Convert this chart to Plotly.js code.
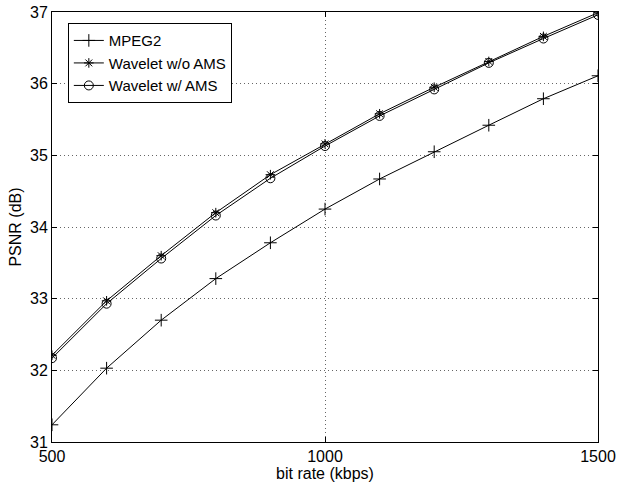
<!DOCTYPE html>
<html><head><meta charset="utf-8">
<script src="https://cdn.plot.ly/plotly-3.0.1.min.js"></script>
<style>body{margin:0;background:#fff}#c{width:619px;height:487px}</style>
</head><body><div id="c"></div>
<script>
var bitRate = [500, 600, 700, 800, 900, 1000, 1100, 1200, 1300, 1400, 1500];
var mpeg2 = [31.24, 32.03, 32.70, 33.28, 33.78, 34.25, 34.67, 35.05, 35.42, 35.79, 36.11];
var waveletNoAMS = [32.21, 32.97, 33.60, 34.20, 34.73, 35.16, 35.58, 35.95, 36.31, 36.66, 36.99];
var waveletAMS = [32.17, 32.93, 33.56, 34.16, 34.68, 35.13, 35.55, 35.92, 36.29, 36.63, 36.96];
var xTicks = [500, 1000, 1500];
var yTicks = [31, 32, 33, 34, 35, 36, 37];

function tr(name, y, sym, size){
  return {x: bitRate, y: y, name: name, type: 'scatter', mode: 'lines+markers',
    line: {color: '#000', width: 1},
    marker: {symbol: sym, size: size, color: '#000', line: {color: '#000', width: 1}}};
}
var data = [
  tr('MPEG2', mpeg2, 'cross-thin-open', 9),
  tr('Wavelet w/o AMS', waveletNoAMS, 'asterisk-open', 8),
  tr('Wavelet w/ AMS', waveletAMS, 'circle-open', 9)
];
var axBase = {showline: true, linecolor: '#000', linewidth: 1, mirror: 'ticks',
  ticks: 'inside', ticklen: 5, tickcolor: '#000', showgrid: true, gridcolor: '#666',
  griddash: '1px,3px', gridwidth: 1, zeroline: false, tickfont: {size: 16, color: '#000'}};
var layout = {
  width: 619, height: 487, paper_bgcolor: '#fff', plot_bgcolor: '#fff',
  margin: {l: 52, r: 21, t: 12, b: 45},
  font: {family: 'Liberation Sans, Arial, sans-serif', size: 16, color: '#000'},
  showlegend: true,
  legend: {x: 0.029, y: 0.974, xanchor: 'left', yanchor: 'top', bgcolor: '#fff',
    bordercolor: '#000', borderwidth: 1, font: {size: 15}, tracegroupgap: 0},
  xaxis: Object.assign({}, axBase, {range: [500, 1500], tickvals: xTicks,
    title: {text: 'bit rate (kbps)', standoff: 0, font: {size: 16}}}),
  yaxis: Object.assign({}, axBase, {range: [31, 37], tickvals: yTicks,
    title: {text: 'PSNR (dB)', standoff: 4, font: {size: 16}}})
};
Plotly.newPlot('c', data, layout, {displayModeBar: false, staticPlot: true});
</script></body></html>
